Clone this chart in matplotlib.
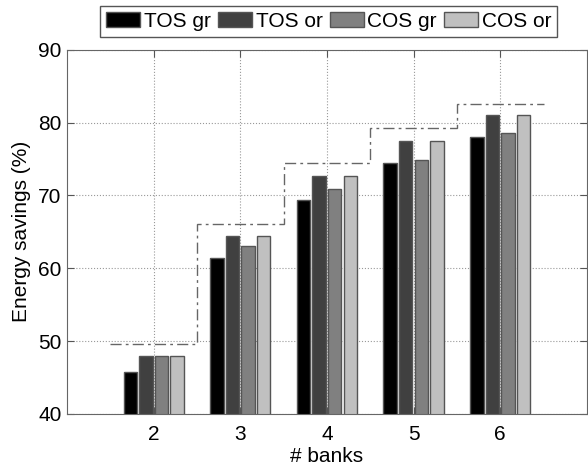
import numpy as np
import matplotlib
matplotlib.use("Agg")
import matplotlib.pyplot as plt

plt.rcParams['font.family'] = ['Liberation Sans', 'DejaVu Sans']

# Данные
banks = [2, 3, 4, 5, 6]
tos_gr = [45.8, 61.4, 69.3, 74.4, 78.0]
tos_or = [47.9, 64.4, 72.6, 77.5, 81.0]
cos_gr = [48.0, 63.0, 70.9, 74.8, 78.6]
cos_or = [47.9, 64.4, 72.6, 77.5, 81.0]
bound = [49.6, 66.1, 74.4, 79.3, 82.6]

series = [tos_gr, tos_or, cos_gr, cos_or]
names = ["TOS gr", "TOS or", "COS gr", "COS or"]
colors = ["#000000", "#404040", "#808080", "#c0c0c0"]
offsets = [-0.27, -0.09, 0.09, 0.27]

fig = plt.figure(figsize=(5.88, 4.65), dpi=100)
ax = fig.add_axes([0.114, 0.110, 0.884, 0.783])

x = np.array(banks)
bars = []
for vals, off, c, n in zip(series, offsets, colors, names):
    b = ax.bar(x + off, vals, width=0.155, color=c, edgecolor="#555555",
               linewidth=1, label=n, zorder=2)
    bars.append(b)

# ступенчатая граница
edges = np.concatenate([x - 0.5, [x[-1] + 0.5]])
ax.stairs(bound, edges, baseline=None, color="#666666", linestyle=(0, (8, 3, 2, 3)),
          linewidth=1, zorder=3)

ax.set_xlim(1, 7)
ax.set_ylim(40, 90)
ax.set_xticks(banks)
ax.set_yticks([40, 50, 60, 70, 80, 90])
ax.grid(True, linestyle=":", color="#999999", linewidth=0.8)
ax.set_axisbelow(True)
ax.tick_params(direction="in", length=5, top=True, right=True,
               labelsize=15, color="#555555")
ax.tick_params(axis="y", pad=4)
ax.tick_params(axis="x", pad=8)
for s in ax.spines.values():
    s.set_color("#666666")

ax.set_xlabel("# banks", fontsize=15, labelpad=2)
ax.set_ylabel("Energy savings (%)", fontsize=15, labelpad=5)

leg = fig.legend(handles=bars, labels=names, loc="center",
                 bbox_to_anchor=(0.559, 0.954), ncol=4, fontsize=15,
                 handlelength=1.63, handleheight=0.77, handletextpad=0.18,
                 columnspacing=0.34, borderpad=0.3, fancybox=False,
                 framealpha=1, edgecolor="#555555")
leg.get_frame().set_linewidth(1)

plt.savefig("out.png", dpi=100)
